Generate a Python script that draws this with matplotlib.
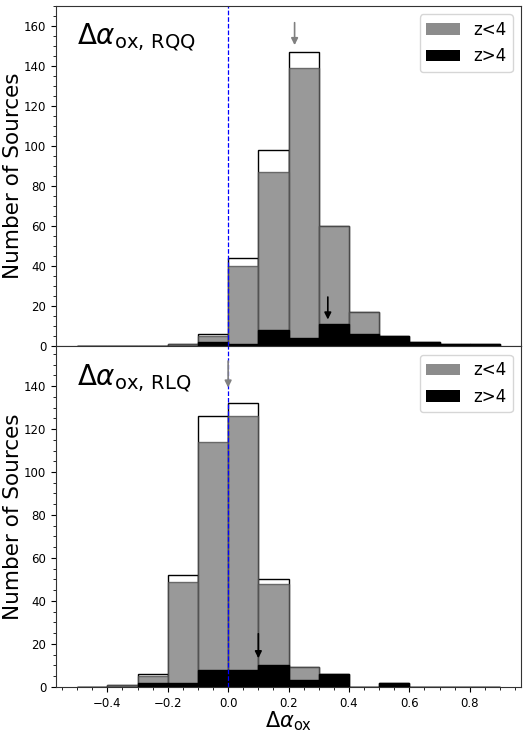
import matplotlib
matplotlib.use("Agg")
import matplotlib.pyplot as plt
import numpy as np
from matplotlib.patches import Patch
from matplotlib.ticker import MultipleLocator

# bin edges of the Delta alpha_ox histograms
edges = np.round(np.arange(-0.5, 0.91, 0.1), 2)
centers = (edges[:-1] + edges[1:]) / 2

# RQQ counts per bin
rqq_all = [0, 0, 0, 1, 6, 44, 98, 147, 60, 17, 5, 2, 1, 1]
rqq_lo = [0, 0, 0, 1, 5, 40, 87, 139, 60, 17, 0, 0, 0, 0]
rqq_hi = [0, 0, 0, 0, 2, 1, 8, 4, 11, 6, 5, 2, 1, 1]

# RLQ counts per bin
rlq_all = [0, 1, 6, 52, 126, 132, 50, 9, 6, 0, 2, 0, 0, 0]
rlq_lo = [0, 1, 5, 49, 114, 126, 48, 9, 0, 0, 0, 0, 0, 0]
rlq_hi = [0, 0, 2, 2, 8, 8, 10, 3, 6, 0, 2, 0, 0, 0]

# median arrows: (x, tail, tip)
rqq_arrow_lo = (0.22, 163, 149)
rqq_arrow_hi = (0.33, 26, 12)
rlq_arrow_lo = (0.0, 153, 138)
rlq_arrow_hi = (0.10, 26, 12)

fig, axes = plt.subplots(2, 1, figsize=(5.28, 7.33), dpi=100, sharex=True)
fig.subplots_adjust(left=0.106, right=0.987, top=0.992, bottom=0.063, hspace=0)


def draw_panel(ax, total, lo, hi, label, arr_lo, arr_hi, ytop):
    ax.hist(centers, bins=edges, weights=total, color="white",
            edgecolor="black", linewidth=1.0)
    ax.hist(centers, bins=edges, weights=lo, color="grey", alpha=0.8,
            edgecolor="#505050", linewidth=1.0)
    ax.hist(centers, bins=edges, weights=hi, color="black",
            edgecolor="black", linewidth=1.0)
    ax.axvline(0, color="blue", ls="--", lw=0.9)

    x, y0, y1 = arr_lo
    ax.annotate("", xy=(x, y1), xytext=(x, y0),
                arrowprops=dict(arrowstyle="-|>", color="grey", lw=1.2,
                                mutation_scale=10))
    x, y0, y1 = arr_hi
    ax.annotate("", xy=(x, y1), xytext=(x, y0),
                arrowprops=dict(arrowstyle="-|>", color="black", lw=1.2,
                                mutation_scale=10))

    ax.text(0.045, 0.955, label, transform=ax.transAxes, fontsize=20,
            va="top", ha="left")
    handles = [Patch(facecolor="grey", alpha=0.9, label="z<4"),
               Patch(facecolor="black", label="z>4")]
    ax.legend(handles=handles, loc="upper right", fontsize=12)

    ax.set_ylim(0, ytop)
    ax.set_ylabel("Number of Sources", fontsize=15.5)
    ax.yaxis.set_label_coords(-0.07, 0.5)
    ax.yaxis.set_major_locator(MultipleLocator(20))
    ax.yaxis.set_minor_locator(MultipleLocator(5))
    ax.xaxis.set_major_locator(MultipleLocator(0.2))
    ax.xaxis.set_minor_locator(MultipleLocator(0.05))
    ax.tick_params(labelsize=8.5)
    for s in ax.spines.values():
        s.set_color("#333333")


draw_panel(axes[0], rqq_all, rqq_lo, rqq_hi, r"$\Delta\alpha_{\rm ox,\,RQQ}$",
           rqq_arrow_lo, rqq_arrow_hi, 170)
draw_panel(axes[1], rlq_all, rlq_lo, rlq_hi, r"$\Delta\alpha_{\rm ox,\,RLQ}$",
           rlq_arrow_lo, rlq_arrow_hi, 158.5)

axes[1].set_xlim(-0.57, 0.97)
axes[1].set_xlabel(r"$\Delta\alpha_{\rm ox}$", fontsize=15, labelpad=0)

fig.savefig("out.png")
